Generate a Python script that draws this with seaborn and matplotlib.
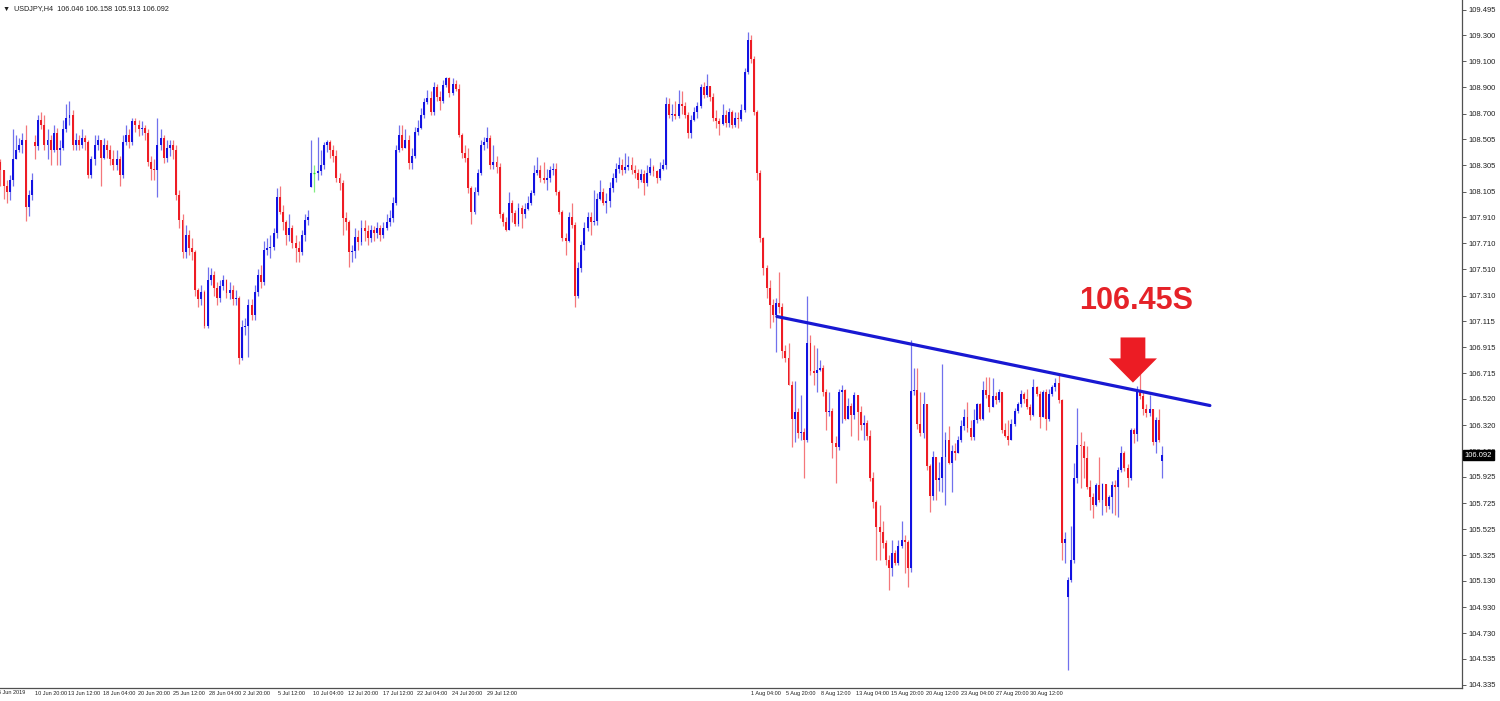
import numpy as np
import pandas as pd
import seaborn as sns
import matplotlib.pyplot as plt
from matplotlib.patches import FancyArrow

# USDJPY H4 candles, (close, high, low) per bar
first_open = 108.33

part_a = [
    (108.27, 108.35, 108.15), (108.15, 108.25, 108.05), (108.10, 108.19, 108.02), (108.19, 108.23, 108.04),
    (108.35, 108.58, 108.15), (108.42, 108.54, 108.35), (108.46, 108.51, 108.41), (108.50, 108.55, 108.40),
    (107.99, 108.61, 107.88), (108.08, 108.12, 107.92), (108.19, 108.25, 108.04), (108.45, 108.54, 108.35),
    (108.65, 108.69, 108.42), (108.61, 108.71, 108.58), (108.46, 108.69, 108.42), (108.50, 108.58, 108.35),
    (108.42, 108.54, 108.31), (108.55, 108.61, 108.41), (108.42, 108.59, 108.31), (108.44, 108.50, 108.31),
    (108.58, 108.65, 108.42), (108.67, 108.77, 108.56), (108.69, 108.80, 108.61), (108.46, 108.73, 108.42),
    (108.50, 108.55, 108.42), (108.46, 108.54, 108.42), (108.51, 108.58, 108.44), (108.48, 108.54, 108.42),
    (108.23, 108.50, 108.21), (108.35, 108.38, 108.21), (108.46, 108.54, 108.31), (108.50, 108.54, 108.42),
    (108.36, 108.50, 108.15), (108.46, 108.51, 108.35), (108.42, 108.50, 108.36), (108.35, 108.46, 108.31),
    (108.31, 108.42, 108.27), (108.35, 108.42, 108.27), (108.23, 108.38, 108.15), (108.48, 108.54, 108.21),
    (108.54, 108.61, 108.46), (108.48, 108.58, 108.44), (108.64, 108.67, 108.46), (108.61, 108.67, 108.56),
    (108.58, 108.65, 108.53), (108.59, 108.64, 108.54), (108.55, 108.61, 108.50), (108.33, 108.58, 108.30),
    (108.28, 108.38, 108.19), (108.27, 108.35, 108.19), (108.46, 108.67, 108.06), (108.51, 108.58, 108.42),
    (108.36, 108.54, 108.32), (108.44, 108.50, 108.33), (108.46, 108.50, 108.38), (108.42, 108.50, 108.35),
    (108.08, 108.46, 108.04), (107.89, 108.12, 107.83), (107.64, 107.93, 107.60), (107.77, 107.85, 107.60),
    (107.67, 107.81, 107.62), (107.64, 107.75, 107.58), (107.35, 107.66, 107.31), (107.28, 107.37, 107.22),
    (107.34, 107.39, 107.24), (107.08, 107.35, 107.06), (107.43, 107.53, 107.06), (107.47, 107.52, 107.39),
    (107.37, 107.50, 107.31), (107.29, 107.41, 107.24), (107.38, 107.43, 107.26), (107.43, 107.47, 107.35),
    (107.33, 107.44, 107.29), (107.35, 107.41, 107.28), (107.28, 107.39, 107.24), (107.29, 107.35, 107.24),
    (106.83, 107.31, 106.79), (107.07, 107.12, 106.82), (107.08, 107.14, 107.01), (107.24, 107.28, 106.84),
    (107.16, 107.28, 107.12), (107.34, 107.39, 107.12), (107.47, 107.51, 107.31), (107.41, 107.54, 107.37),
    (107.66, 107.73, 107.39), (107.67, 107.75, 107.62), (107.68, 107.77, 107.60), (107.79, 107.83, 107.66),
    (108.06, 108.13, 107.75), (107.95, 108.15, 107.93), (107.87, 108.00, 107.81),
]

part_b = [
    (107.77, 107.89, 107.70), (107.83, 107.93, 107.73), (107.71, 107.85, 107.67), (107.67, 107.77, 107.57),
    (107.64, 107.73, 107.57), (107.77, 107.81, 107.62), (107.89, 107.93, 107.73), (107.91, 107.96, 107.85),
    (108.25, 108.50, 108.14), (108.25, 108.31, 108.10), (108.26, 108.52, 108.19), (108.31, 108.42, 108.23),
    (108.46, 108.48, 108.28), (108.48, 108.50, 108.41), (108.42, 108.50, 108.36), (108.38, 108.46, 108.33),
    (108.21, 108.42, 108.18), (108.17, 108.25, 108.12), (107.90, 108.19, 107.77), (107.87, 107.95, 107.81),
    (107.64, 107.89, 107.53), (107.65, 107.70, 107.57), (107.76, 107.83, 107.60), (107.72, 107.81, 107.66),
    (107.83, 107.89, 107.70), (107.80, 107.89, 107.73), (107.75, 107.85, 107.70), (107.81, 107.85, 107.72),
    (107.79, 107.84, 107.73), (107.83, 107.87, 107.75), (107.77, 107.85, 107.73), (107.83, 107.87, 107.75),
    (107.87, 107.93, 107.81), (107.90, 107.96, 107.84), (108.02, 108.06, 107.87), (108.42, 108.46, 108.00),
    (108.54, 108.61, 108.41), (108.44, 108.61, 108.42), (108.50, 108.58, 108.44), (108.32, 108.54, 108.28),
    (108.38, 108.44, 108.28), (108.56, 108.60, 108.36), (108.59, 108.65, 108.54), (108.69, 108.74, 108.58),
    (108.79, 108.82, 108.67), (108.82, 108.88, 108.77), (108.71, 108.87, 108.69), (108.90, 108.94, 108.69),
    (108.83, 108.93, 108.80), (108.80, 108.87, 108.73), (108.92, 108.96, 108.78), (108.97, 108.98, 108.90),
    (108.86, 108.98, 108.83), (108.93, 108.97, 108.84), (108.89, 108.96, 108.87), (108.54, 108.93, 108.52),
    (108.40, 108.55, 108.36), (108.36, 108.46, 108.33), (108.13, 108.44, 108.09), (107.95, 108.15, 107.86),
    (108.10, 108.14, 107.93), (108.25, 108.28, 108.08), (108.46, 108.50, 108.23), (108.48, 108.52, 108.42),
    (108.51, 108.60, 108.44), (108.31, 108.54, 108.28), (108.33, 108.46, 108.28), (108.29, 108.38, 108.25),
    (107.93, 108.32, 107.90), (107.87, 107.95, 107.84), (107.81, 107.91, 107.80), (108.02, 108.10, 107.81),
    (107.94, 108.04, 107.87), (107.86, 107.96, 107.84), (107.98, 108.02, 107.84), (107.93, 108.00, 107.83),
    (107.97, 108.02, 107.90), (108.02, 108.07, 107.96), (108.09, 108.12, 108.00), (108.25, 108.31, 108.08),
    (108.27, 108.37, 108.23), (108.21, 108.31, 108.18), (108.19, 108.33, 108.17), (108.21, 108.28, 108.12),
    (108.27, 108.30, 108.18), (108.28, 108.32, 108.23), (108.10, 108.32, 108.08), (107.95, 108.12, 107.93),
    (107.75, 107.96, 107.73), (107.73, 107.79, 107.62), (107.91, 107.95, 107.72), (107.85, 108.02, 107.83),
    (107.31, 107.87, 107.22), (107.52, 107.57, 107.29),
]

part_c = [
    (107.70, 107.73, 107.49), (107.83, 107.87, 107.66), (107.91, 107.95, 107.80), (107.87, 107.95, 107.77),
    (107.88, 108.12, 107.85), (108.05, 108.09, 107.85), (108.10, 108.19, 108.04), (108.02, 108.13, 108.00),
    (108.03, 108.09, 107.94), (108.13, 108.18, 107.99), (108.21, 108.25, 108.10), (108.28, 108.32, 108.18),
    (108.31, 108.37, 108.25), (108.27, 108.35, 108.23), (108.29, 108.40, 108.25), (108.31, 108.38, 108.27),
    (108.27, 108.37, 108.24), (108.25, 108.31, 108.21), (108.19, 108.28, 108.13), (108.24, 108.28, 108.18),
    (108.17, 108.27, 108.08), (108.25, 108.31, 108.15), (108.29, 108.36, 108.23), (108.26, 108.31, 108.22),
    (108.21, 108.27, 108.17), (108.28, 108.33, 108.19), (108.31, 108.35, 108.27), (108.77, 108.83, 108.28),
    (108.69, 108.82, 108.67), (108.70, 108.77, 108.64), (108.68, 108.80, 108.66), (108.77, 108.88, 108.67),
    (108.76, 108.87, 108.70), (108.69, 108.79, 108.67), (108.55, 108.71, 108.51), (108.65, 108.69, 108.51),
    (108.71, 108.75, 108.64), (108.76, 108.79, 108.67), (108.90, 108.93, 108.74), (108.84, 108.94, 108.82),
    (108.91, 109.00, 108.83), (108.83, 108.90, 108.80), (108.67, 108.86, 108.64), (108.64, 108.73, 108.59),
    (108.62, 108.67, 108.54), (108.69, 108.77, 108.61), (108.63, 108.73, 108.60), (108.71, 108.74, 108.60),
    (108.61, 108.73, 108.59), (108.67, 108.71, 108.60), (108.66, 108.71, 108.59), (108.73, 108.77, 108.64),
    (109.02, 109.05, 108.71), (109.26, 109.32, 109.00), (109.12, 109.30, 109.09), (108.71, 109.14, 108.69),
    (108.25, 108.73, 108.19), (107.75, 108.27, 107.72), (107.52, 107.76, 107.47), (107.37, 107.54, 107.29),
    (107.24, 107.43, 107.06), (107.16, 107.28, 107.11), (107.25, 107.29, 106.88), (107.22, 107.49, 107.18),
    (106.89, 107.25, 106.83), (106.83, 106.93, 106.80), (106.63, 106.95, 106.63), (106.37, 106.66, 106.15),
    (106.42, 106.66, 106.19), (106.26, 106.45, 106.22), (106.27, 106.55, 106.21), (106.21, 106.30, 105.92),
    (106.95, 107.31, 106.19), (106.73, 107.01, 106.70), (106.72, 106.93, 106.63), (106.74, 106.91, 106.57),
    (106.76, 106.82, 106.73), (106.57, 106.78, 106.54), (106.42, 106.60, 106.28), (106.43, 106.57, 106.39),
    (106.18, 106.45, 106.07), (106.15, 106.24, 105.88), (106.57, 106.60, 106.13), (106.59, 106.63, 106.34),
    (106.37, 106.60, 106.36), (106.47, 106.53, 106.39), (106.40, 106.49, 106.24), (106.55, 106.57, 106.37),
    (106.42, 106.53, 106.21), (106.32, 106.47, 106.28), (106.34, 106.40, 106.21), (106.24, 106.36, 106.21),
]

part_d = [
    (105.92, 106.28, 105.89), (105.73, 105.96, 105.69), (105.54, 105.75, 105.29), (105.50, 105.71, 105.29),
    (105.42, 105.59, 105.38), (105.29, 105.44, 105.25), (105.23, 105.33, 105.06), (105.34, 105.44, 105.17),
    (105.27, 105.37, 105.25), (105.40, 105.44, 105.25), (105.44, 105.59, 105.38), (105.43, 105.48, 105.19),
    (105.23, 105.44, 105.08), (106.58, 106.97, 105.20), (106.59, 106.76, 106.55), (106.33, 106.76, 106.29),
    (106.26, 106.57, 106.24), (106.48, 106.57, 106.22), (106.01, 106.48, 105.98), (105.78, 106.02, 105.66),
    (106.08, 106.12, 105.75), (105.90, 106.07, 105.75), (105.92, 106.04, 105.82), (106.08, 106.79, 105.81),
    (106.21, 106.27, 105.71), (106.03, 106.31, 106.02), (106.12, 106.17, 105.81), (106.11, 106.18, 106.05),
    (106.21, 106.24, 106.13), (106.31, 106.36, 106.19), (106.38, 106.44, 106.28), (106.30, 106.50, 106.27),
    (106.23, 106.36, 106.21), (106.36, 106.44, 106.21), (106.48, 106.49, 106.34), (106.37, 106.49, 106.36),
    (106.59, 106.66, 106.36), (106.55, 106.69, 106.53), (106.46, 106.69, 106.42), (106.54, 106.68, 106.50),
    (106.51, 106.57, 106.48), (106.57, 106.60, 106.50),
]

part_e = [
    (106.28, 106.50, 106.26), (106.24, 106.34, 106.23), (106.21, 106.36, 106.17), (106.33, 106.37, 106.21),
    (106.43, 106.45, 106.31), (106.48, 106.50, 106.41), (106.56, 106.59, 106.46), (106.52, 106.57, 106.49),
    (106.46, 106.60, 106.44), (106.40, 106.48, 106.36), (106.61, 106.67, 106.39), (106.56, 106.62, 106.54),
    (106.38, 106.58, 106.30), (106.57, 106.59, 106.38), (106.37, 106.60, 106.28), (106.56, 106.60, 106.35),
    (106.61, 106.63, 106.54), (106.64, 106.68, 106.58), (106.51, 106.72, 106.49), (105.42, 106.52, 105.29),
    (105.45, 105.50, 105.27), (105.14, 105.16, 104.45), (105.29, 105.55, 105.12), (105.92, 106.03, 105.27),
    (106.17, 106.45, 105.88), (106.16, 106.27, 105.84), (106.07, 106.20, 105.92), (105.85, 106.16, 105.83),
    (105.77, 105.90, 105.67), (105.71, 105.80, 105.61), (105.86, 105.88, 105.70), (105.75, 106.08, 105.73),
    (105.87, 105.88, 105.63), (105.70, 105.84, 105.66), (105.77, 105.79, 105.68), (105.86, 105.89, 105.65),
    (105.85, 105.90, 105.63), (105.98, 106.00, 105.62), (106.11, 106.16, 105.96), (105.99, 106.12, 105.97),
    (105.92, 106.02, 105.85), (106.28, 106.30, 105.90), (106.25, 106.30, 106.18), (106.58, 106.62, 106.20),
    (106.54, 106.72, 106.52), (106.44, 106.58, 106.40), (106.41, 106.48, 106.38), (106.44, 106.55, 106.39),
    (106.19, 106.43, 106.17), (106.36, 106.38, 106.11), (106.21, 106.44, 106.19), (106.092, 106.158, 105.913),
]

# weekend gaps: bar number -> open price
gap_opens = {11: 108.48, 99: 108.14, 340: 105.01, 370: 106.046}

price_ticks = [109.495, 109.300, 109.100, 108.900, 108.700, 108.505, 108.305, 108.105, 107.910,
               107.710, 107.510, 107.310, 107.115, 106.915, 106.715, 106.520, 106.320, 106.120,
               105.925, 105.725, 105.525, 105.325, 105.130, 104.930, 104.730, 104.535, 104.335]

time_labels = ['10 Jun 20:00', '13 Jun 12:00', '18 Jun 04:00', '20 Jun 20:00', '25 Jun 12:00',
               '28 Jun 04:00', '2 Jul 20:00', '5 Jul 12:00', '10 Jul 04:00', '12 Jul 20:00',
               '17 Jul 12:00', '22 Jul 04:00', '24 Jul 20:00', '29 Jul 12:00',
               '1 Aug 04:00', '5 Aug 20:00', '8 Aug 12:00', '13 Aug 04:00', '15 Aug 20:00',
               '20 Aug 12:00', '23 Aug 04:00', '27 Aug 20:00', '30 Aug 12:00']
time_label_pos = [10.9, 21.5, 32.8, 43.8, 55.1, 66.3, 77.3, 88.4, 99.6, 110.7, 121.9, 132.7,
                  143.8, 155.0, 239.0, 250.1, 261.2, 272.5, 283.6, 294.7, 305.8, 317.0, 327.9]
first_label = '6 Jun 2019'

# trend line and the sell level note
trend_x = [247.3, 385.2]
trend_y = [107.15, 106.47]
sell_level = '106.45S'
last_close = 106.092
header = '\u25bc  USDJPY,H4  106.046 106.158 105.913 106.092'

# build the candle table
df = pd.DataFrame(part_a + part_b + part_c + part_d + part_e, columns=['close', 'high', 'low'])
df['open'] = df['close'].shift(1).fillna(first_open)
for i, o in gap_opens.items():
    df.loc[i, 'open'] = o
df['high'] = df[['high', 'open', 'close']].max(axis=1)
df['low'] = df[['low', 'open', 'close']].min(axis=1)
df['bar'] = np.arange(len(df))
df['kind'] = np.where(df['close'] > df['open'], 'up', np.where(df['close'] < df['open'], 'down', 'doji'))

colors = {'up': '#1212e2', 'down': '#ee1c24', 'doji': '#2ee02e'}

sns.set_style('white')
plt.rcParams['font.family'] = ['Liberation Sans', 'DejaVu Sans']

fig = plt.figure(figsize=(15, 7.01), dpi=100)
ax = fig.add_axes([0, 13 / 701, 1462 / 1500, 688 / 701])

for kind, grp in df.groupby('kind'):
    c = colors[kind]
    ax.vlines(grp['bar'], grp['low'], grp['high'], colors=c, linewidth=0.9, alpha=0.6)
    if kind == 'doji':
        ax.hlines(grp['close'], grp['bar'] - 0.35, grp['bar'] + 0.35, colors=c, linewidth=0.9)
    else:
        ax.bar(grp['bar'], grp['close'] - grp['open'], bottom=grp['open'], width=0.62,
               color=c, linewidth=0)

# trend line
sns.lineplot(x=trend_x, y=trend_y, ax=ax, color='#1818d2', linewidth=2.3)

# red arrow and label
ax.add_patch(FancyArrow(360.7, 106.99, 0, -0.345, width=7.9, head_width=15.3,
                        head_length=0.185, length_includes_head=True,
                        color='#ec1c24', linewidth=0))
ax.text(361.7, 107.265, sell_level, color='#e52228', fontsize=22, fontweight='bold',
        ha='center', va='center')

ax.set_xlim(-0.13, 465.5)
ax.set_ylim(104.312, 109.568)

# price axis on the right
ax.yaxis.tick_right()
ax.set_yticks(price_ticks)
ax.set_yticklabels([f'{p:.3f}' for p in price_ticks], fontsize=5.5, color='#202020')
ax.tick_params(axis='y', direction='out', length=3, width=0.6, color='#404040', pad=1.5)

# time axis
ax.set_xticks(time_label_pos)
ax.set_xticklabels(time_labels, fontsize=4.0, color='#202020')
for lab in ax.get_xticklabels():
    lab.set_horizontalalignment('left')
ax.tick_params(axis='x', direction='out', length=2, width=0.6, color='#404040', pad=0.3)
ax.text(-0.7, -0.0035, first_label, transform=ax.get_xaxis_transform(),
        fontsize=4.0, color='#202020', ha='left', va='top')

for side in ['top', 'left']:
    ax.spines[side].set_visible(False)
for side in ['right', 'bottom']:
    ax.spines[side].set_color('#505050')
    ax.spines[side].set_linewidth(0.9)

# current price box
ax.text(1.002, last_close, f'{last_close:.3f}', transform=ax.get_yaxis_transform(),
        fontsize=5.5, color='white', ha='left', va='center', zorder=10,
        bbox=dict(boxstyle='square,pad=0.2', facecolor='black', edgecolor='black'))

# header
ax.text(0.002, 0.992, header, transform=ax.transAxes,
        fontsize=5.2, color='#202020', ha='left', va='top')

fig.savefig('out.png', dpi=100)
